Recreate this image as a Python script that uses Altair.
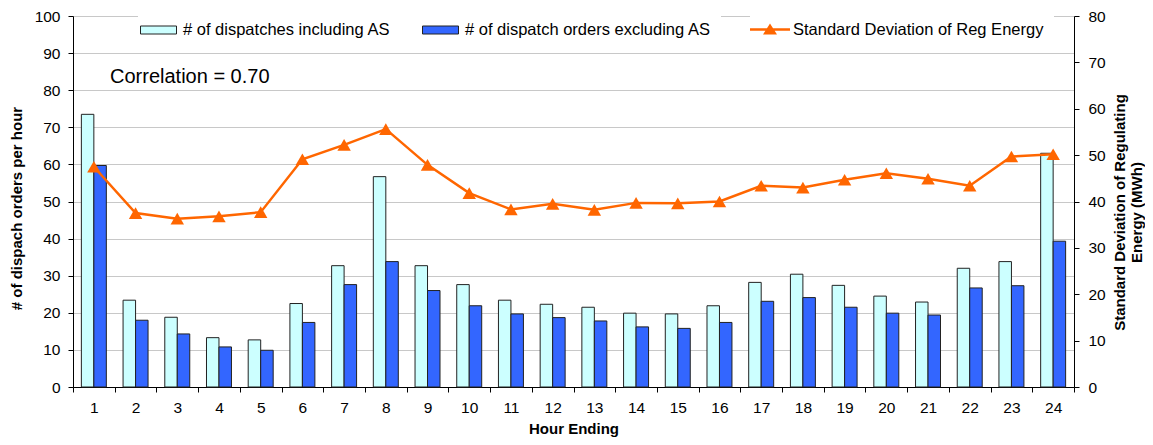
import altair as alt
import pandas as pd

hours = list(range(1, 25))
incl_as = [73.5, 23.4, 18.8, 13.3, 12.7, 22.5, 32.7, 56.7, 32.7, 27.6, 23.4, 22.3,
           21.5, 19.9, 19.7, 21.9, 28.2, 30.4, 27.4, 24.5, 22.9, 32.0, 33.8, 63.0]
excl_as = [59.7, 18.0, 14.3, 10.8, 9.9, 17.4, 27.6, 33.8, 26.0, 21.9, 19.7, 18.7,
           17.8, 16.2, 15.8, 17.4, 23.1, 24.1, 21.5, 19.9, 19.4, 26.7, 27.3, 39.3]
std_reg = [47.5, 37.5, 36.3, 36.8, 37.7, 49.1, 52.2, 55.6, 47.9, 41.8, 38.3, 39.5,
           38.2, 39.7, 39.6, 40.0, 43.4, 43.0, 44.7, 46.1, 44.9, 43.4, 49.7, 50.2]

bar_series = ["# of dispatches including AS", "# of dispatch orders excluding AS"]
line_series = "Standard Deviation of Reg Energy"
correlation_note = "Correlation = 0.70"

bars_df = pd.DataFrame({
    "hour": hours + hours,
    "series": [bar_series[0]] * len(hours) + [bar_series[1]] * len(hours),
    "count": incl_as + excl_as,
})
line_df = pd.DataFrame({"hour": hours, "series": line_series, "std": std_reg})
note_df = pd.DataFrame({"note": [correlation_note]})

x_enc = alt.X(
    "hour:O",
    title="Hour Ending",
    scale=alt.Scale(paddingInner=0, paddingOuter=0),
    axis=alt.Axis(labelAngle=0, tickBand="extent", grid=False, tickSize=5,
                  labelPadding=8, titlePadding=6),
)

bars = alt.Chart(bars_df).mark_bar(stroke="#222222", strokeWidth=1).encode(
    x=x_enc,
    xOffset=alt.XOffset("series:N", sort=bar_series,
                        scale=alt.Scale(paddingInner=0, paddingOuter=0.67)),
    y=alt.Y("count:Q", title="# of dispach orders per hour",
            scale=alt.Scale(domain=[0, 100]),
            axis=alt.Axis(values=list(range(0, 101, 10)), grid=True, gridColor="#C8C8C8",
                          tickSize=5, labelPadding=8, titlePadding=10, titleY=192)),
    fill=alt.Fill("series:N", sort=bar_series, title=None,
                  scale=alt.Scale(domain=bar_series, range=["#CCFFFF", "#3366FF"]),
                  legend=alt.Legend(orient="none", legendX=65, legendY=-6.5,
                                    direction="horizontal",
                                    symbolType="M-1.8,-0.4H1.8V0.4H-1.8Z", symbolSize=400,
                                    symbolStrokeColor="#222222", symbolStrokeWidth=1,
                                    labelOffset=14, columnPadding=29, padding=10,
                                    labelLimit=400, fillColor="white")),
)

y_right = alt.Y("std:Q", title=["Standard Deviation of Regulating", "Energy (MWh)"],
                scale=alt.Scale(domain=[0, 80]),
                axis=alt.Axis(orient="right", values=list(range(0, 81, 10)), grid=False,
                              tickSize=5, labelPadding=9, titlePadding=5, titleAngle=270,
                              titleLineHeight=17, titleY=196))

line = alt.Chart(line_df).mark_line(color="#FF6600", strokeWidth=2.5).encode(
    x="hour:O",
    y=y_right,
)

points = alt.Chart(line_df).mark_point(shape="triangle-up", filled=True, size=180, opacity=1).encode(
    x="hour:O",
    y=y_right,
    color=alt.Color("series:N", title=None,
                    scale=alt.Scale(domain=[line_series], range=["#FF6600"]),
                    legend=alt.Legend(orient="none", legendX=677, legendY=-6.5,
                                      symbolType="M-2,-0.12H2V0.12H-2Z M-0.7,0.5L0,-0.6L0.7,0.5Z",
                                      symbolSize=400, symbolStrokeWidth=0,
                                      labelOffset=13, padding=10, labelLimit=400,
                                      fillColor="white")),
)

note = alt.Chart(note_df).mark_text(align="left", baseline="middle", fontSize=20).encode(
    x=alt.value(37), y=alt.value(61), text="note:N"
)

chart = (
    alt.layer(bars, alt.layer(line, points), note)
    .resolve_scale(y="independent")
    .properties(width=1001, height=371, autosize="none",
                padding={"left": 65, "top": 8, "right": 71, "bottom": 50})
    .configure(font="Liberation Sans")
    .configure_view(strokeWidth=0)
    .configure_axis(domainColor="black", tickColor="black", labelColor="black",
                    labelFontSize=15.5, titleFontSize=15, titleFontWeight="bold",
                    titleColor="black", labelFont="Liberation Sans", titleFont="Liberation Sans")
    .configure_legend(labelFontSize=16.5, labelColor="black", labelFont="Liberation Sans")
)

chart.save("out.html", embed_options={"renderer": "svg", "actions": False})
